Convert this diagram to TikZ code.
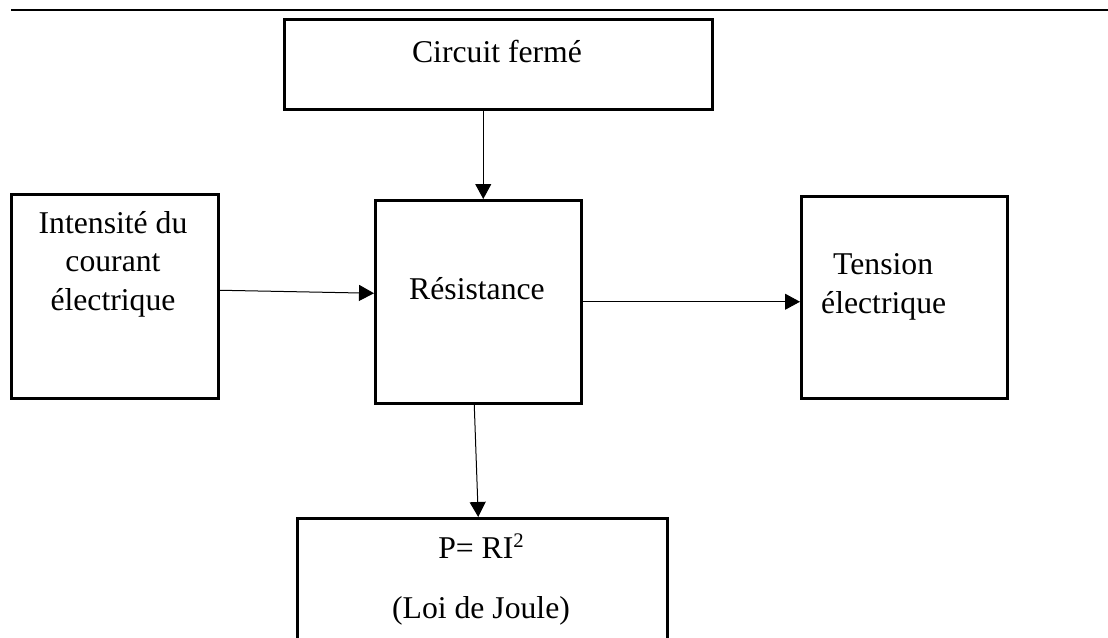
\documentclass[tikz,border=0pt]{standalone}
\usepackage{fontspec}
\setmainfont{Liberation Serif}
\usetikzlibrary{arrows.meta}
\tikzset{
  boite/.style={draw,line width=2.5pt,anchor=north west,inner sep=0pt},
  texte/.style={font=\fontsize{31.7}{38.5}\selectfont,inner sep=0pt,anchor=base},
  fleche/.style={line width=1pt,-{Triangle[length=15pt,width=16pt]}}
}
\begin{document}
\begin{tikzpicture}[x=1pt,y=-1pt]
\useasboundingbox (0,0) rectangle (1108,637);
\clip (0,0) rectangle (1108,637);
\draw[line width=2pt] (11,10) -- (1108,10);
\node[boite,minimum width=428pt,minimum height=90pt] (circuit) at (283,18) {};
\node[boite,minimum width=207pt,minimum height=204pt] (intensite) at (10,193) {};
\node[boite,minimum width=206pt,minimum height=203pt] (resist) at (374,199) {};
\node[boite,minimum width=206pt,minimum height=202pt] (tension) at (800,195) {};
\node[boite,minimum width=370pt,minimum height=160pt] (joule) at (296,517) {};
\node[texte] (tcircuit) at (497,62) {Circuit fermé};
\node[texte,align=center] (tintensite) at (113,310) {Intensité du\\courant\\électrique};
\node[texte] (tresist) at (477,299) {Résistance};
\node[texte,align=left,anchor=base west] (ttension) at (821,313) {\hspace{12pt}Tension\\électrique};
\node[texte,align=center] (tjoule) at (481,618) {P= RI\raisebox{11pt}{\fontsize{20.7}{20.7}\selectfont 2}\\[21.5pt](Loi de Joule)};
\draw[fleche] ([xshift=5pt]resist.north |- circuit.south) -- ([xshift=5pt]resist.north);
\draw[fleche] ([yshift=6pt]intensite.east) -- ([yshift=8.5pt]resist.west);
\draw[fleche] (resist.east) -- (resist.east -| tension.west);
\draw[fleche] ([xshift=-4pt]resist.south) -- ([xshift=-4pt]joule.north);
\end{tikzpicture}
\end{document}
